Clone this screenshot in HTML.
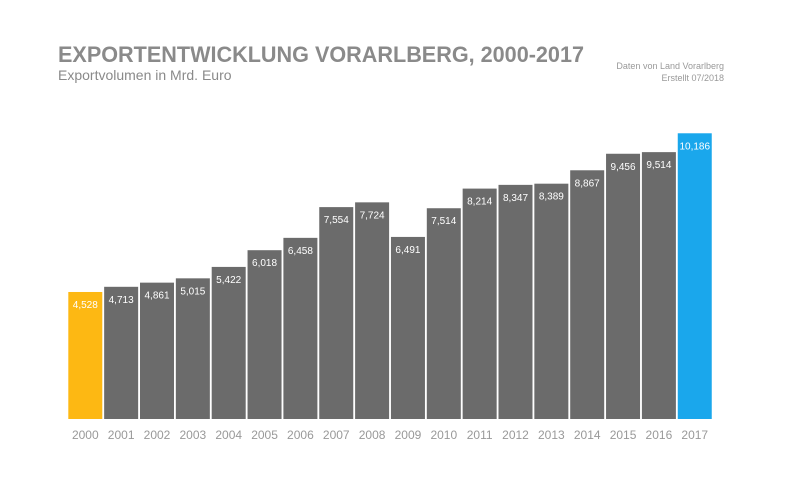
<!DOCTYPE html>
<html><head><meta charset="utf-8"><style>
body{margin:0;background:#fff;width:800px;height:495px;overflow:hidden;font-family:"Liberation Sans",sans-serif;}
</style></head><body>
<svg width="800" height="495">
<text x="58" y="62" font-size="22" font-weight="bold" fill="#8a8a8a" textLength="526" lengthAdjust="spacingAndGlyphs">EXPORTENTWICKLUNG VORARLBERG, 2000-2017</text>
<text x="58" y="80" font-size="14" fill="#8a8a8a">Exportvolumen in Mrd. Euro</text>
<text x="724" y="69" font-size="9" fill="#999" text-anchor="end">Daten von Land Vorarlberg</text>
<text x="724" y="81" font-size="9" fill="#999" text-anchor="end">Erstellt 07/2018</text>
<g id="bars"></g>
</svg>
<script>
const years=["2000","2001","2002","2003","2004","2005","2006","2007","2008","2009","2010","2011","2012","2013","2014","2015","2016","2017"];
const values=[4.528,4.713,4.861,5.015,5.422,6.018,6.458,7.554,7.724,6.491,7.514,8.214,8.347,8.389,8.867,9.456,9.514,10.186];
const labels=["4,528","4,713","4,861","5,015","5,422","6,018","6,458","7,554","7,724","6,491","7,514","8,214","8,347","8,389","8,867","9,456","9,514","10,186"];
const NS="http://www.w3.org/2000/svg";
const base=419, scale=28.05, x0=68.3, pitch=35.85, bw=34;
const xPos=i=>x0+i*pitch;
const yPos=v=>base-v*scale;
const g=document.getElementById('bars');
values.forEach((v,i)=>{
  const col=i===0?"#fdb813":(i===values.length-1?"#1aa7ec":"#6b6b6b");
  const r=document.createElementNS(NS,'rect');
  r.setAttribute('x',xPos(i));r.setAttribute('y',yPos(v));
  r.setAttribute('width',bw);r.setAttribute('height',base-yPos(v));
  r.setAttribute('fill',col);
  
  
  g.appendChild(r);
  const t=document.createElementNS(NS,'text');
  t.setAttribute('x',xPos(i)+bw/2);t.setAttribute('y',yPos(v)+16);
  t.setAttribute('font-size','10');t.setAttribute('fill','#fff');t.setAttribute('text-anchor','middle');
  t.textContent=labels[i];
  
  
  g.appendChild(t);
  const y=document.createElementNS(NS,'text');
  y.setAttribute('x',xPos(i)+bw/2);y.setAttribute('y',439);
  y.setAttribute('font-size','12');y.setAttribute('fill','#999');y.setAttribute('text-anchor','middle');
  y.textContent=years[i];
  
  
  g.appendChild(y);
});
</script>
</body></html>
